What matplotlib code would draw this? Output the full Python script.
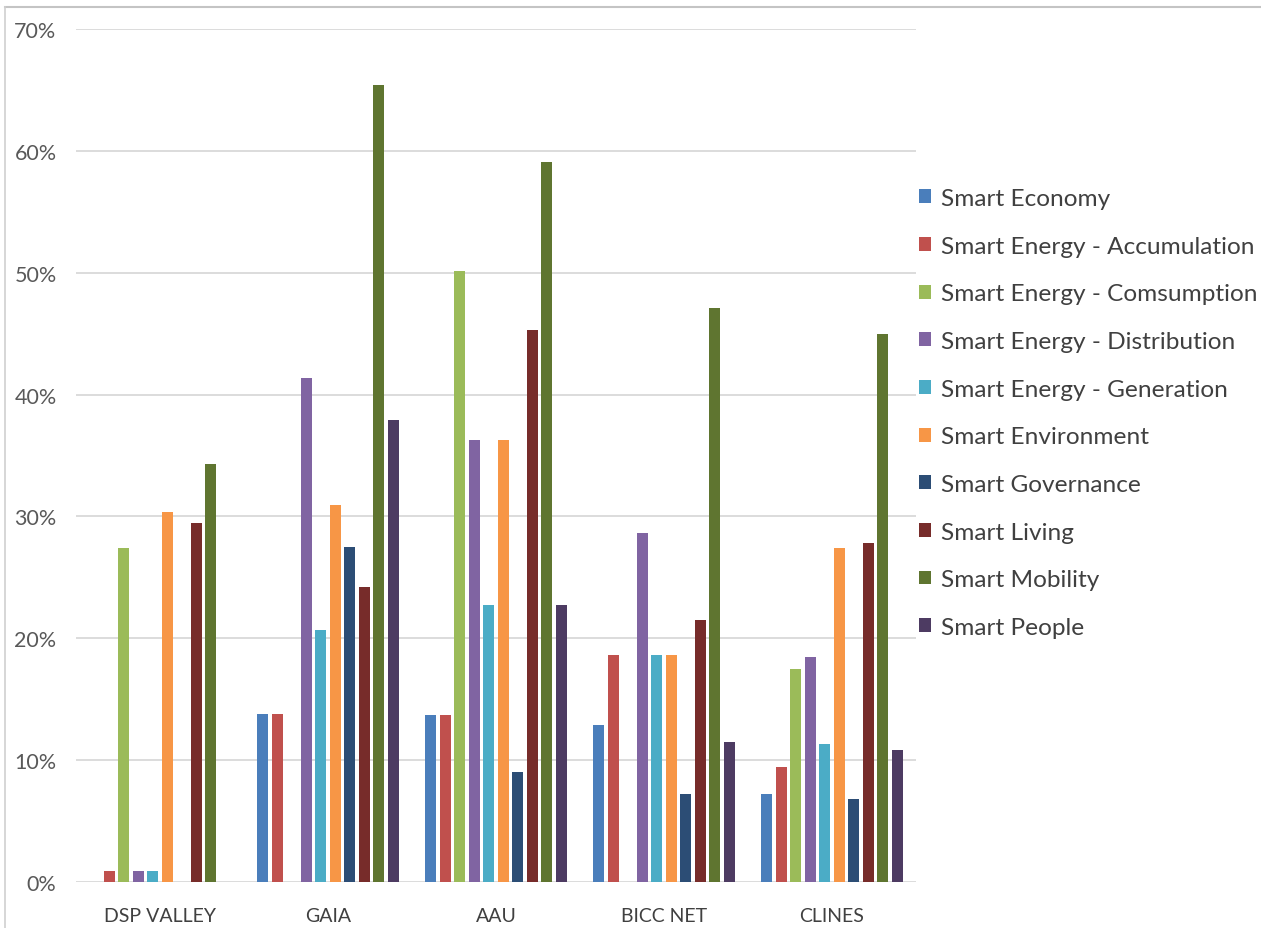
import matplotlib
matplotlib.use("Agg")
import matplotlib.pyplot as plt
import numpy as np
from matplotlib.patches import Patch
from matplotlib.lines import Line2D
from matplotlib.ticker import FuncFormatter

plt.rcParams['font.family'] = ['Lato', 'DejaVu Sans']

clusters = ["DSP VALLEY", "GAIA", "AAU", "BICC NET", "CLINES"]

series_names = [
    "Smart Economy",
    "Smart Energy - Accumulation",
    "Smart Energy - Comsumption",
    "Smart Energy - Distribution",
    "Smart Energy - Generation",
    "Smart Environment",
    "Smart Governance",
    "Smart Living",
    "Smart Mobility",
    "Smart People",
]

# share of projects per cluster, in percent
smart_economy = [0.0, 13.8, 13.7, 12.9, 7.2]
energy_accumulation = [0.9, 13.8, 13.7, 18.6, 9.4]
energy_consumption = [27.4, 0.0, 50.1, 0.0, 17.5]
energy_distribution = [0.9, 41.4, 36.3, 28.6, 18.5]
energy_generation = [0.9, 20.7, 22.7, 18.6, 11.3]
smart_environment = [30.4, 30.9, 36.3, 18.6, 27.4]
smart_governance = [0.0, 27.5, 9.0, 7.2, 6.8]
smart_living = [29.5, 24.2, 45.3, 21.5, 27.8]
smart_mobility = [34.3, 65.4, 59.1, 47.1, 45.0]
smart_people = [0.0, 37.9, 22.7, 11.5, 10.8]

series_values = [
    smart_economy, energy_accumulation, energy_consumption, energy_distribution,
    energy_generation, smart_environment, smart_governance, smart_living,
    smart_mobility, smart_people,
]

colors = [
    "#4A7EBB", "#C0504D", "#9BBB59", "#8064A2", "#4BACC6",
    "#F79646", "#2C4D75", "#772C2A", "#5F7530", "#4D3B62",
]

W, H = 1261, 929
fig = plt.figure(figsize=(W / 100, H / 100), dpi=100)
fig.patch.set_facecolor("white")

ax = fig.add_axes([76 / W, 46 / H, (916 - 76) / W, (883 - 30) / H])

x = np.arange(len(clusters))
pitch = 0.0866
bar_w = 0.066
n = len(series_names)
for i, (vals, col) in enumerate(zip(series_values, colors)):
    offs = (i - (n - 1) / 2) * pitch
    ax.bar(x + offs, np.array(vals) / 100.0, width=bar_w, color=col,
           zorder=3, linewidth=0)

ax.set_xlim(-0.5, len(clusters) - 0.5)
ax.set_ylim(0, 0.70)
ax.set_yticks(np.arange(0, 0.71, 0.10))
ax.yaxis.set_major_formatter(FuncFormatter(lambda v, p: f"{v * 100:.0f}%"))
ax.set_xticks(x)
ax.set_xticklabels(clusters)
ax.grid(axis="y", color="#D9D9D9", linewidth=1.3, zorder=0)
ax.grid(axis="x", visible=False)
for s in ax.spines.values():
    s.set_visible(False)
ax.tick_params(axis="y", length=0, pad=14, labelsize=15.5, labelcolor="#595959")
ax.tick_params(axis="x", length=0, pad=18, labelsize=14, labelcolor="#404040")
ax.set_facecolor("white")

handles = [Patch(facecolor=c, edgecolor="none") for c in colors]
leg = fig.legend(handles, series_names, loc="upper left",
                 bbox_to_anchor=(919 / W, 1 - 189 / H),
                 frameon=False, fontsize=17.6, labelcolor="#404040",
                 handlelength=0.5, handleheight=0.5, handletextpad=0.4,
                 labelspacing=1.09, borderaxespad=0, borderpad=0)

# thin frame along the top and left edges of the figure
fig.add_artist(Line2D([5 / W, 1.0], [1 - 8 / H, 1 - 8 / H], transform=fig.transFigure,
                      color="#C4C4C4", linewidth=1.5))
fig.add_artist(Line2D([5 / W, 5 / W], [0.0, 1 - 8 / H], transform=fig.transFigure,
                      color="#D0D0D0", linewidth=1.2))

fig.savefig("out.png", dpi=100, facecolor="white")
